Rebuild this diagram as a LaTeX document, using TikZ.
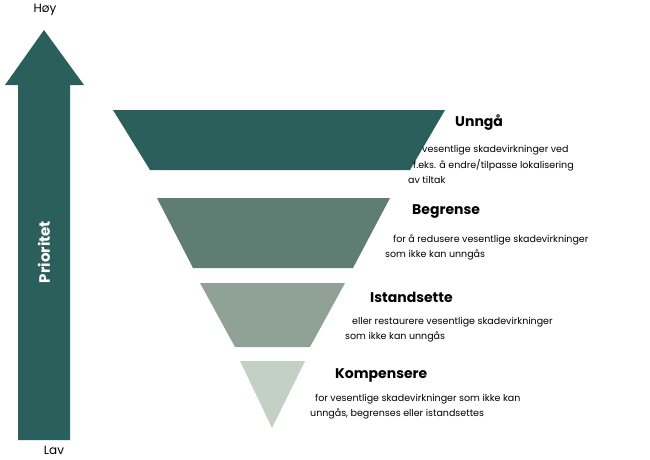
\documentclass[tikz,border=0pt]{standalone}
\usepackage{fontspec}
\setmainfont{Poppins}
\definecolor{c1}{HTML}{2A5F5C}
\definecolor{c2}{HTML}{5F7D72}
\definecolor{c3}{HTML}{8FA295}
\definecolor{c4}{HTML}{C3D0C5}
\begin{document}
\begin{tikzpicture}[x=1pt,y=-1pt,
 ttl/.style={anchor=west,font=\fontsize{14}{16}\selectfont\bfseries,inner sep=0},
 dsc/.style={anchor=west,font=\fontsize{9.5}{11}\selectfont,inner sep=0}]
\useasboundingbox (0,0) rectangle (650,460);
\fill[c1] (18,440) -- (18,85) -- (5,85) -- (44,30) -- (84,85) -- (70,85) -- (70,440) -- cycle;
\node[rotate=90,text=white,font=\fontsize{15}{17}\selectfont\bfseries] (p) at (44,252) {Prioritet};
\node[font=\fontsize{12}{14}\selectfont] (h) at (45,10) {Høy};
\node[font=\fontsize{12}{14}\selectfont] (l) at (54,450) {Lav};
\fill[c1] (113,110) -- (445,110) -- (410,170) -- (150,170) -- cycle;
\fill[c2] (157,198) -- (390,198) -- (353,268) -- (193,268) -- cycle;
\fill[c3] (200,283) -- (345,283) -- (310,347) -- (235,347) -- cycle;
\fill[c4] (240,361) -- (305,361) -- (272,428) -- cycle;
\node[ttl] (t1) at (455,123) {Unngå};
\node[dsc] at (422,150) {vesentlige skadevirkninger ved};
\node[dsc] at (413,165) {f.eks. å endre/tilpasse lokalisering};
\node[dsc] at (408,180) {av tiltak};
\node[ttl] (t2) at (412,212) {Begrense};
\node[dsc] at (393,240) {for å redusere vesentlige skadevirkninger};
\node[dsc] at (385,255) {som ikke kan unngås};
\node[ttl] (t3) at (370,297) {Istandsette};
\node[dsc] at (352,322) {eller restaurere vesentlige skadevirkninger};
\node[dsc] at (345,337) {som ikke kan unngås};
\node[ttl] (t4) at (335,375) {Kompensere};
\node[dsc] at (315,399) {for vesentlige skadevirkninger som ikke kan};
\node[dsc] at (310,414) {unngås, begrenses eller istandsettes};
\end{tikzpicture}
\end{document}
